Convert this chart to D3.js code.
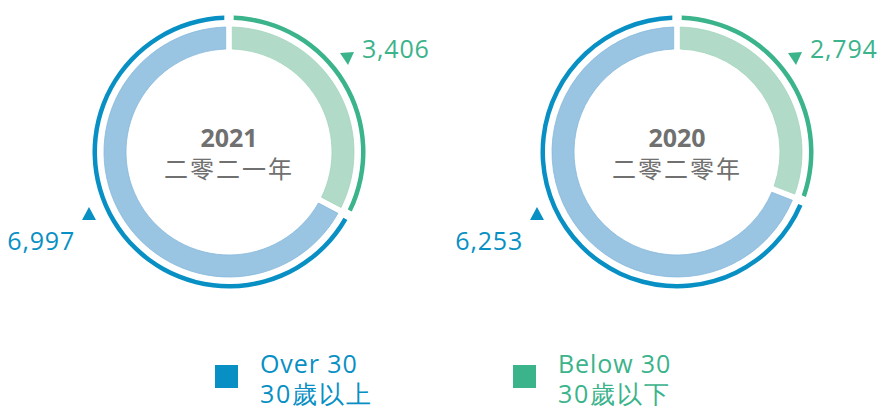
<!DOCTYPE html>
<html><head><meta charset="utf-8">
<script src="https://cdn.jsdelivr.net/npm/d3@7/dist/d3.min.js"></script>
<style>
body{margin:0;background:#fff;}
svg{display:block;font-family:"Open Sans","Noto Sans",sans-serif;}
</style></head>
<body><svg id="c" width="881" height="408"></svg>
<script>
const categories = ["Over 30", "Below 30"];
const categoriesZh = ["30歲以上", "30歲以下"];
const years = ["2021", "2020"];
const yearsZh = ["二零二一年", "二零二零年"];
const over30 = [6997, 6253];
const below30 = [3406, 2794];

const darkColors = ["#0890c4", "#3bb38b"];
const lightColors = ["#99c4e2", "#b1dbc8"];
const lightStroke = ["#86b9dc", "#a2d4bd"];

const svg = d3.select("#c");
const centers = [[229, 152], [677, 152]];
const fmt = d3.format(",");

const pie = d3.pie().sort(null).value(d => d.value).startAngle(0).endAngle(2 * Math.PI);
const innerArc = d3.arc().innerRadius(103).outerRadius(125).padAngle(0.058).padRadius(114);
const outerArc = d3.arc().innerRadius(132).outerRadius(136.5).padAngle(0.07).padRadius(134);

years.forEach((yr, i) => {
  const data = [{key: 1, value: below30[i]}, {key: 0, value: over30[i]}];
  const arcs = pie(data);
  const g = svg.append("g").attr("transform", `translate(${centers[i][0]},${centers[i][1]})`);
  g.selectAll("path.in").data(arcs).join("path").attr("class", "in")
    .attr("d", innerArc)
    .attr("fill", d => lightColors[d.data.key])
    .attr("stroke", d => lightStroke[d.data.key]).attr("stroke-width", 0.8);
  g.selectAll("path.out").data(arcs).join("path").attr("class", "out")
    .attr("d", outerArc)
    .attr("fill", d => darkColors[d.data.key]);

  g.append("text").attr("x", 0).attr("y", -5).attr("text-anchor", "middle")
    .attr("font-size", 25).attr("font-weight", 700).attr("fill", "#707070").text(yr);
  g.append("text").attr("x", 0).attr("y", 26).attr("text-anchor", "middle")
    .attr("font-family", "'Noto Sans CJK TC','Noto Sans CJK SC',sans-serif")
    .attr("font-size", 24).attr("fill", "#707070").attr("letter-spacing", 2).text(yearsZh[i]);

  // Below 30 label
  g.append("path").attr("d", "M-7,-5 L7,-6 L1,7 Z").attr("transform", "translate(118,-94)")
    .attr("fill", darkColors[1]);
  g.append("text").attr("x", 133).attr("y", -94).attr("font-size", 25).attr("letter-spacing", 0.8)
    .attr("fill", darkColors[1]).text(fmt(below30[i]));
  // Over 30 label
  g.append("path").attr("d", "M0,-7 L7,6 L-7,6 Z").attr("transform", "translate(-140,62)")
    .attr("fill", darkColors[0]);
  g.append("text").attr("x", -154).attr("y", 98).attr("text-anchor", "end").attr("font-size", 25).attr("letter-spacing", 0.8)
    .attr("fill", darkColors[0]).text(fmt(over30[i]));
});

// legend
const legX = [215, 513];
categories.forEach((c, i) => {
  const lg = svg.append("g").attr("transform", `translate(${legX[i]},365)`);
  lg.append("rect").attr("width", 23).attr("height", 23).attr("fill", darkColors[i]);
  lg.append("text").attr("x", 45).attr("y", 8).attr("font-size", 25).attr("letter-spacing", 0.9).attr("fill", darkColors[i]).text(c);
  lg.append("text").attr("x", 45).attr("y", 38).attr("font-size", 25).attr("letter-spacing", 1.8).attr("fill", darkColors[i]).text(categoriesZh[i]);
});
</script></body></html>
